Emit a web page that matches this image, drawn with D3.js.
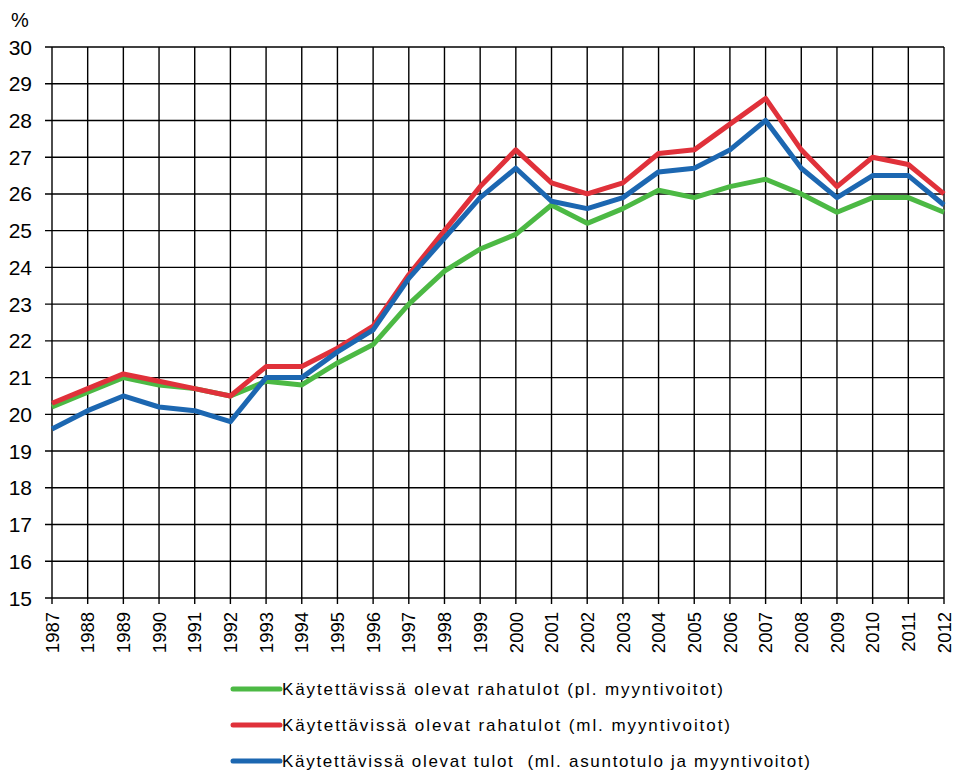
<!DOCTYPE html>
<meta charset="utf-8">
<head>
    <script src="https://d3js.org/d3.v7.min.js"></script>
    <style>
        body { margin: 0; background: #fff; }
        text { font-family: "Liberation Sans", Arial, sans-serif; fill: #000; }
        .grid line { stroke: #000; stroke-width: 1.4; }
        .serie { fill: none; stroke-width: 5; stroke-linejoin: round; }
        .legend text { white-space: pre; }
    </style>
</head>
<body>
<div id="chart"></div>
<script>
    // data
    var years = [1987, 1988, 1989, 1990, 1991, 1992, 1993, 1994, 1995, 1996, 1997, 1998, 1999,
                 2000, 2001, 2002, 2003, 2004, 2005, 2006, 2007, 2008, 2009, 2010, 2011, 2012];
    var rahatulotPl = [20.2, 20.6, 21.0, 20.8, 20.7, 20.5, 20.9, 20.8, 21.4, 21.9, 23.0, 23.9, 24.5,
                       24.9, 25.7, 25.2, 25.6, 26.1, 25.9, 26.2, 26.4, 26.0, 25.5, 25.9, 25.9, 25.5];
    var rahatulotMl = [20.3, 20.7, 21.1, 20.9, 20.7, 20.5, 21.3, 21.3, 21.8, 22.4, 23.8, 25.0, 26.2,
                       27.2, 26.3, 26.0, 26.3, 27.1, 27.2, 27.9, 28.6, 27.2, 26.2, 27.0, 26.8, 26.0];
    var tulotMl = [19.6, 20.1, 20.5, 20.2, 20.1, 19.8, 21.0, 21.0, 21.7, 22.3, 23.7, 24.8, 25.9,
                   26.7, 25.8, 25.6, 25.9, 26.6, 26.7, 27.2, 28.0, 26.7, 25.9, 26.5, 26.5, 25.7];
    var seriesNames = ["Käytettävissä olevat rahatulot (pl. myyntivoitot)",
                       "Käytettävissä olevat rahatulot (ml. myyntivoitot)",
                       "Käytettävissä olevat tulot  (ml. asuntotulo ja myyntivoitot)"];
    var yTicks = d3.range(15, 31);

    // styling
    var seriesColors = ["#4cb944", "#e0313a", "#1c67b1"];
    var legendWidths = [441, 448, 528];

    var series = [rahatulotPl, rahatulotMl, tulotMl];

    var width = 954, height = 774;
    var svg = d3.select("#chart").append("svg")
        .attr("width", width)
        .attr("height", height);

    var x = d3.scaleLinear().domain([1987, 2012]).range([52, 944]);
    var y = d3.scaleLinear().domain([15, 30]).range([598, 47]);

    // grid
    var grid = svg.append("g").attr("class", "grid");
    grid.selectAll(".h").data(yTicks).enter().append("line")
        .attr("x1", 45).attr("x2", 944)
        .attr("y1", function (d) { return y(d); })
        .attr("y2", function (d) { return y(d); });
    grid.selectAll(".v").data(years).enter().append("line")
        .attr("x1", function (d) { return x(d); })
        .attr("x2", function (d) { return x(d); })
        .attr("y1", 47).attr("y2", 604);

    // y labels
    svg.append("g").selectAll("text").data(yTicks).enter().append("text")
        .attr("x", 32)
        .attr("y", function (d) { return y(d); })
        .attr("dy", "0.36em")
        .attr("text-anchor", "end")
        .style("font-size", "21px")
        .text(function (d) { return d; });

    svg.append("text").attr("x", 11).attr("y", 27)
        .style("font-size", "20px").text("%");

    // x labels
    svg.append("g").selectAll("text").data(years).enter().append("text")
        .attr("transform", function (d) { return "translate(" + x(d) + ",612) rotate(-90)"; })
        .attr("dy", "0.36em")
        .attr("text-anchor", "end")
        .style("font-size", "18.5px")
        .text(function (d) { return d; });

    // lines
    var line = d3.line()
        .x(function (d, i) { return x(years[i]); })
        .y(function (d) { return y(d); });

    svg.append("g").selectAll("path").data(series).enter().append("path")
        .attr("class", "serie")
        .attr("d", line)
        .style("stroke", function (d, i) { return seriesColors[i]; });

    // legend
    var legend = svg.append("g").attr("class", "legend").selectAll("g").data(seriesNames).enter().append("g")
        .attr("transform", function (d, i) { return "translate(233," + (689 + i * 36) + ")"; });
    legend.append("line")
        .attr("x1", 0).attr("x2", 47)
        .style("stroke", function (d, i) { return seriesColors[i]; })
        .style("stroke-width", 5)
        .style("stroke-linecap", "round");
    legend.append("text")
        .attr("x", 49)
        .attr("dy", "0.36em")
        .attr("textLength", function (d, i) { return legendWidths[i]; })
        .attr("lengthAdjust", "spacing")
        .style("font-size", "17px")
        .text(function (d) { return d; });
</script>
</body>
